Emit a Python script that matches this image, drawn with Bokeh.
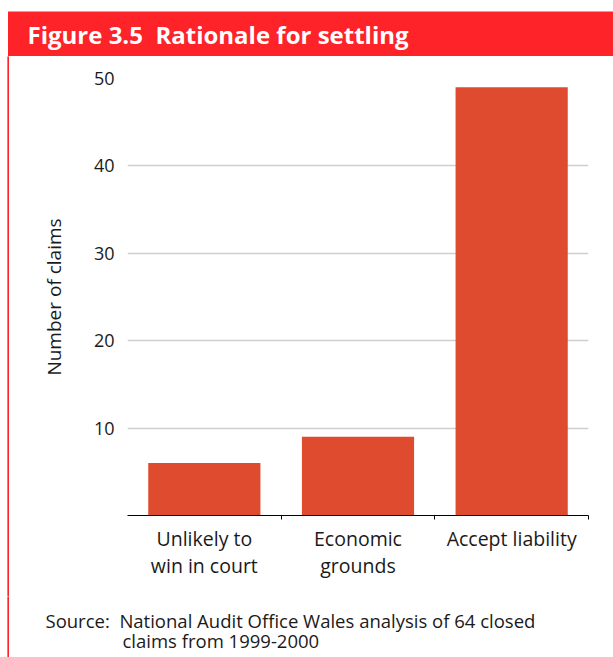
from bokeh.plotting import figure
from bokeh.models import Range1d, FixedTicker, Spacer
from bokeh.layouts import column, row
from bokeh.core.properties import value
from bokeh.embed import file_html
from bokeh.resources import INLINE

# ---- data ----
categories = ["Unlikely to\nwin in court", "Economic\ngrounds", "Accept liability"]
claims = [6, 9, 49]
y_ticks = [10, 20, 30, 40, 50]
title_text = "Figure 3.5\u00a0\u00a0Rationale for settling"
y_label = "Number of claims"
source_line1 = "Source:\u00a0\u00a0National Audit Office Wales analysis of 64 closed"
source_line2 = "claims from 1999-2000"

FONT = "Open Sans"
RED = "#FE2229"
BAR = "#DF4B2E"
TXT = "#1a1a1a"

W, H = 613, 657
TITLE_H = 56
BORDER_W = 9
SOURCE_H = 61
CHART_H = H - TITLE_H - SOURCE_H
CHART_W = W - BORDER_W


def blank(width, height, xr, yr, fill="white"):
    f = figure(width=width, height=height, output_backend="svg",
               toolbar_location=None, x_range=xr, y_range=yr,
               x_axis_type=None, y_axis_type=None, min_border=0,
               outline_line_color=None, background_fill_color=fill,
               border_fill_color=fill)
    f.grid.visible = False
    return f


def border(height):
    # thin red rule down the left edge: a white gap then a 2px red strip
    strip = blank(2, height, Range1d(0, 1), Range1d(0, 1), fill=RED)
    strip.quad(left=[0], right=[1], top=[1], bottom=[0],
               fill_color=RED, line_color=None)
    return row(Spacer(width=BORDER_W - 2, height=height), strip, spacing=0)


# ---- title bar ----
tf = blank(W, TITLE_H, Range1d(0, W), Range1d(TITLE_H, 0))
tf.quad(left=[7.5], right=[W], top=[11], bottom=[TITLE_H], fill_color=RED,
        line_color=None)
tf.text(x=[27], y=[34], text=[title_text], text_color="white",
        text_font=value(FONT), text_font_style="bold",
        text_font_size="24px", text_baseline="middle")

# ---- chart ----
xpos = [i + 0.5 for i in range(len(categories))]
p = figure(width=CHART_W, height=CHART_H, output_backend="svg",
           toolbar_location=None,
           x_range=Range1d(0, len(categories)), y_range=Range1d(0, 50),
           min_border_left=127 - BORDER_W, min_border_right=25,
           min_border_top=78 - TITLE_H,
           min_border_bottom=(TITLE_H + CHART_H) - 515,
           background_fill_color="white", border_fill_color="white",
           outline_line_color=None)

p.vbar(x=xpos, top=claims, width=0.73, fill_color=BAR, line_color=None)

p.xaxis.ticker = FixedTicker(ticks=xpos, minor_ticks=[1, 2, 3])
p.xaxis.major_label_overrides = {x: c for x, c in zip(xpos, categories)}
p.xaxis.major_tick_line_color = None
p.xaxis.major_tick_in = 0
p.xaxis.major_tick_out = 0
p.xaxis.minor_tick_in = 0
p.xaxis.minor_tick_out = 4
p.xaxis.minor_tick_line_color = "black"
p.xaxis.axis_line_color = "black"
p.xaxis.axis_line_width = 1.2
p.xaxis.major_label_text_font = FONT
p.xaxis.major_label_text_font_size = "19.5px"
p.xaxis.major_label_text_color = TXT
p.xaxis.major_label_text_line_height = 1.02
p.xaxis.major_label_standoff = 5

p.yaxis.ticker = FixedTicker(ticks=y_ticks)
p.yaxis.axis_line_color = None
p.yaxis.major_tick_line_color = None
p.yaxis.minor_tick_line_color = None
p.yaxis.major_tick_in = 0
p.yaxis.major_tick_out = 0
p.yaxis.major_label_standoff = 13
p.yaxis.major_label_text_font = FONT
p.yaxis.major_label_text_font_size = "18px"
p.yaxis.major_label_text_color = TXT
p.yaxis.axis_label = y_label
p.yaxis.axis_label_text_font = FONT
p.yaxis.axis_label_text_font_style = "normal"
p.yaxis.axis_label_text_font_size = "19px"
p.yaxis.axis_label_text_color = TXT
p.yaxis.axis_label_standoff = 24

p.xgrid.grid_line_color = None
p.ygrid.grid_line_color = "#cfcfcf"
p.ygrid.grid_line_width = 1.5

# ---- source note ----
sf = blank(CHART_W, SOURCE_H, Range1d(0, CHART_W), Range1d(SOURCE_H, 0))
sf.text(x=[45 - BORDER_W], y=[620 - TITLE_H - CHART_H], text=[source_line1],
        text_color=TXT, text_font=value(FONT), text_font_size="18.5px",
        text_baseline="middle", text_line_height=1.0)
sf.text(x=[122 - BORDER_W], y=[640 - TITLE_H - CHART_H], text=[source_line2],
        text_color=TXT, text_font=value(FONT), text_font_size="18.5px",
        text_baseline="middle", text_line_height=1.0)

layout = column(tf,
                row(border(CHART_H), p, spacing=0),
                row(border(SOURCE_H), sf, spacing=0),
                spacing=0)
open("out.html", "w").write(file_html(layout, INLINE))
